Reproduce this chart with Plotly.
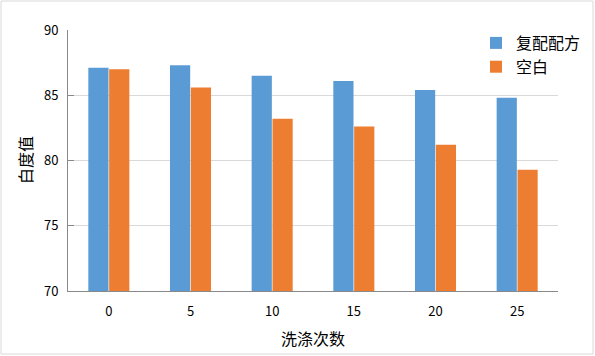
import plotly.graph_objects as go

categories = ["0", "5", "10", "15", "20", "25"]
series_a_name = "复配配方"
series_a = [87.1, 87.3, 86.5, 86.1, 85.4, 84.8]
series_b_name = "空白"
series_b = [87.0, 85.6, 83.2, 82.6, 81.2, 79.3]
y_ticks = [70, 75, 80, 85, 90]

W, H = 595, 356
L, R, T, B = 68, 37, 30, 65
pw, ph = W - L - R, H - T - B

font = "SimSun, 'Noto Sans CJK SC', sans-serif"

fig = go.Figure()
fig.add_bar(x=categories, y=series_a, name=series_a_name, marker_color="#5b9bd5",
            marker_line_width=0)
fig.add_bar(x=categories, y=series_b, name=series_b_name, marker_color="#ed7d31",
            marker_line_width=0)

fig.update_layout(
    width=W, height=H,
    margin=dict(l=L, r=R, t=T, b=B, autoexpand=False),
    paper_bgcolor="white", plot_bgcolor="white",
    barmode="group", bargap=0.49, bargroupgap=0.03,
    font=dict(family=font, size=13, color="#000000"),
    showlegend=True,
    legend=dict(x=(476 - L) / pw, y=1.0 + 4 / ph, xanchor="left", yanchor="top",
                font=dict(size=16), bgcolor="rgba(0,0,0,0)",
                itemwidth=30, tracegroupgap=0),
    xaxis=dict(
        automargin=False,
        showline=True, linecolor="#898989", linewidth=1,
        ticks="", tickfont=dict(size=13), showgrid=False,
        ticklabelstandoff=8,
    ),
    yaxis=dict(
        automargin=False,
        range=[70, 90], tickvals=y_ticks, showline=True, linecolor="#898989",
        linewidth=1, ticks="inside", ticklen=6, tickcolor="#898989",
        showgrid=True, gridcolor="#d9d9d9", gridwidth=1, zeroline=False,
        tickfont=dict(size=13), ticklabelstandoff=6,
    ),
    annotations=[
        dict(text="洗涤次数", xref="paper", yref="paper",
             x=(313 - L) / pw, y=-(338 - T - ph) / ph,
             xanchor="center", yanchor="middle", showarrow=False,
             font=dict(size=16)),
        dict(text="白度值", xref="paper", yref="paper",
             x=(25 - L) / pw, y=(T + ph - 160) / ph,
             xanchor="center", yanchor="middle", showarrow=False,
             textangle=-90, font=dict(size=16)),
    ],
)

# outer chart border
fig.add_shape(type="rect", xref="paper", yref="paper",
              x0=(1 - L) / pw, x1=(W - 2 - L) / pw,
              y0=-(H - 2 - T - ph) / ph, y1=(T - 1) / ph + 1,
              line=dict(color="#d9d9d9", width=1), fillcolor="rgba(0,0,0,0)",
              layer="below")

fig.write_html("out.html", config={"displayModeBar": False},
               post_script="document.body.style.margin='0';document.body.style.overflow='hidden';")
